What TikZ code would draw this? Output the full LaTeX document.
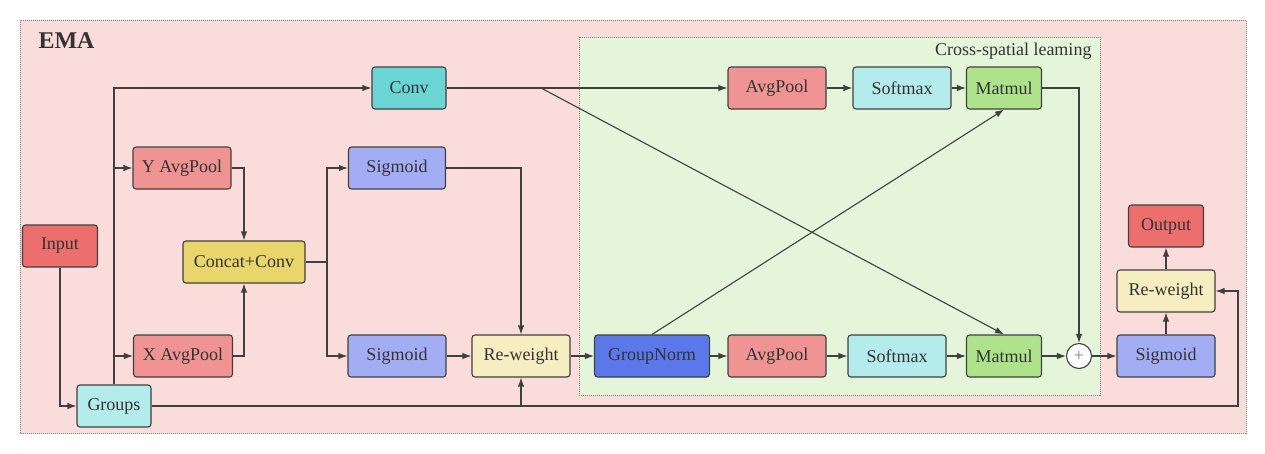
\documentclass[tikz,border=0pt]{standalone}
\usepackage{fontspec}
\setmainfont{Liberation Serif}
\usetikzlibrary{arrows.meta, positioning}
\definecolor{bgpink}{HTML}{FADCDB}
\definecolor{bggreen}{HTML}{E5F5DA}
\definecolor{linegray}{HTML}{404040}
\definecolor{textgray}{HTML}{333333}
\definecolor{redio}{HTML}{EC6F6E}
\definecolor{poolred}{HTML}{F09393}
\definecolor{lightcyan}{HTML}{B4EBEB}
\definecolor{convcyan}{HTML}{6AD5D4}
\definecolor{concatyellow}{HTML}{E8D56B}
\definecolor{sigblue}{HTML}{A3ADF3}
\definecolor{rwcream}{HTML}{F6EEC1}
\definecolor{gnblue}{HTML}{5A78E9}
\definecolor{matgreen}{HTML}{AEE38C}

\begin{document}
\begin{tikzpicture}[x=1pt, y=-1pt,
  mbox/.style={draw=linegray, line width=1.1pt, rounded corners=3pt, minimum height=42pt,
    inner sep=0pt, font=\fontsize{18}{20}\selectfont, text=textgray},
  conn/.style={draw=linegray, line width=1.1pt, -{Latex[length=9pt,width=6.5pt]}},
  plain/.style={draw=linegray, line width=1.1pt},
  frame/.style={draw=gray, line width=0.7pt, dash pattern=on 1pt off 1pt}
]
  \useasboundingbox[fill=white] (0,0) rectangle (1265,453);
  % frames
  \draw[frame, fill=bgpink] (20,20) rectangle (1246,433);
  \draw[frame, fill=bggreen] (579,37) rectangle (1100,395);
  \node[anchor=west, font=\fontsize{24}{26}\selectfont\bfseries, text=textgray] (ema) at (35,41) {EMA};
  \node[anchor=east, font=\fontsize{18}{20}\selectfont, text=textgray] (cslabel) at (1095,51) {Cross-spatial leaming};

  % left part
  \node[mbox, fill=redio, minimum width=75pt] (input) at (60,246) {Input};
  \node[mbox, fill=lightcyan, minimum width=74pt] (groups) at (114,406) {Groups};
  \node[mbox, fill=convcyan, minimum width=74pt] (conv) at (409,88) {Conv};
  \node[mbox, fill=poolred, minimum width=98pt] (ypool) at (182,168) {Y AvgPool};
  \node[mbox, fill=poolred, minimum width=99pt] (xpool) at (183,356) {X AvgPool};
  \node[mbox, fill=concatyellow, minimum width=122pt] (concat) at (244,262) {Concat+Conv};
  \node[mbox, fill=sigblue, minimum width=97pt] (sigtop) at (397,168) {Sigmoid};
  \node[mbox, fill=sigblue, minimum width=98pt] (sigbot) at (397,356) {Sigmoid};
  \node[mbox, fill=rwcream, minimum width=98pt] (rwleft) at (521,356) {Re-weight};

  % cross-spatial part
  \node[mbox, fill=gnblue, minimum width=115pt] (gnorm) at (652,356) {GroupNorm};
  \node[mbox, fill=poolred, minimum width=98pt] (pooltop) at (777,88) {AvgPool};
  \node[mbox, fill=poolred, minimum width=98pt] (poolbot) at (777,356) {AvgPool};
  \node[mbox, fill=lightcyan, minimum width=98pt] (smtop) at (902,88) {Softmax};
  \node[mbox, fill=lightcyan, minimum width=98pt] (smbot) at (897,356) {Softmax};
  \node[mbox, fill=matgreen, minimum width=75pt] (mmtop) at (1004,88) {Matmul};
  \node[mbox, fill=matgreen, minimum width=75pt] (mmbot) at (1004,356) {Matmul};
  \node[circle, draw=linegray, line width=1.1pt, fill=white, minimum size=25pt, inner sep=0pt,
    font=\fontsize{18}{18}\selectfont, text=gray] (plus) at (1079,356) {+};

  % right part
  \node[mbox, fill=sigblue, minimum width=98pt] (sigright) at (1166,356) {Sigmoid};
  \node[mbox, fill=rwcream, minimum width=98pt] (rwright) at (1166,291) {Re-weight};
  \node[mbox, fill=redio, minimum width=75pt] (output) at (1166,226) {Output};

  \coordinate (split) at (327,262);
  \coordinate (tap) at (541,88);
  \coordinate (corner) at (1238,406);

  % connectors
  \draw[conn] (input.south) |- (groups.west);
  \draw[conn] (groups.north) |- (conv.west);
  \draw[conn] (groups.north) |- (ypool.west);
  \draw[conn] (groups.north) |- (xpool.west);
  \draw[conn] (ypool.east) -| (concat.north);
  \draw[conn] (xpool.east) -| (concat.south);
  \draw[plain] (concat.east) -- (split);
  \draw[conn] (split) |- (sigtop.west);
  \draw[conn] (split) |- (sigbot.west);
  \draw[conn] (sigtop.east) -| (rwleft.north);
  \draw[conn] (sigbot.east) -- (rwleft.west);
  \draw[conn] (groups.east) -| (rwleft.south);
  \draw[conn] (groups.east) -- (corner) |- (rwright.east);
  \draw[conn] (rwleft.east) -- (gnorm.west);
  \draw[conn] (conv.east) -- (pooltop.west);
  \draw[conn] (tap) -- (mmbot.north);
  \draw[conn] (gnorm.north) -- (mmtop.south);
  \draw[conn] (pooltop) -- (smtop);
  \draw[conn] (smtop) -- (mmtop);
  \draw[conn] (gnorm) -- (poolbot);
  \draw[conn] (poolbot) -- (smbot);
  \draw[conn] (smbot) -- (mmbot);
  \draw[conn] (mmtop.east) -| (plus.north);
  \draw[conn] (mmbot) -- (plus);
  \draw[conn] (plus) -- (sigright);
  \draw[conn] (sigright) -- (rwright);
  \draw[conn] (rwright) -- (output);
\end{tikzpicture}
\end{document}
